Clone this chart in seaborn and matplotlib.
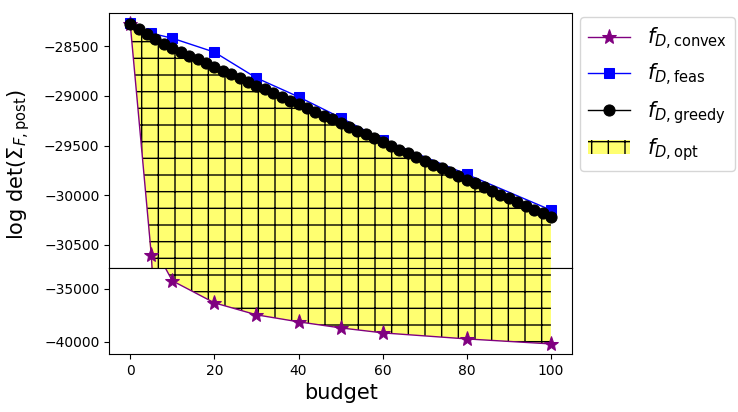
import numpy as np
import pandas as pd
import matplotlib
matplotlib.use("Agg")
import matplotlib.pyplot as plt
import seaborn as sns

x_convex = [0, 5, 10, 20, 30, 40, 50, 60, 80, 100]
y_convex = [-28280, -30600, -34245, -36320, -37450, -38110, -38680, -39150, -39720, -40190]
x_feas = [0, 5, 10, 20, 30, 40, 50, 60, 80, 100]
y_feas = [-28270, -28370, -28420, -28560, -28820, -29010, -29220, -29440, -29790, -30150]
x_greedy = list(range(0, 101, 2))
y_greedy = [-28280, -28330, -28380, -28430, -28475, -28520, -28558, -28596, -28633, -28671,
            -28709, -28747, -28785, -28822, -28860, -28898, -28936, -28974, -29011, -29049,
            -29087, -29125, -29163, -29200, -29238, -29276, -29314, -29352, -29389, -29427,
            -29465, -29503, -29541, -29578, -29616, -29654, -29692, -29730, -29767, -29805,
            -29843, -29881, -29919, -29956, -29994, -30032, -30070, -30108, -30145, -30183, -30221]

fig = plt.figure(figsize=(7.38, 4.12), dpi=100)
L, R = 0.148, 0.775
ax1 = fig.add_axes([L, 0.350, R - L, 0.968 - 0.350])
ax2 = fig.add_axes([L, 0.141, R - L, 0.350 - 0.141], sharex=ax1)

lo = np.interp(x_greedy, x_convex, y_convex)
for ax in (ax1, ax2):
    ax.fill_between(x_greedy, lo, y_greedy, facecolor='#ffff70', edgecolor='black',
                    hatch='+', linewidth=0, label=r'$f_{D,\mathrm{opt}}$')
    sns.lineplot(x=x_convex, y=y_convex, ax=ax, color='purple', marker='*', markersize=11,
                 markeredgecolor='purple', linewidth=1, label=r'$f_{D,\mathrm{convex}}$', legend=False)
    sns.lineplot(x=x_feas, y=y_feas, ax=ax, color='blue', marker='s', markersize=7,
                 markeredgecolor='blue', linewidth=1, label=r'$f_{D,\mathrm{feas}}$', legend=False)
    sns.lineplot(x=x_greedy, y=y_greedy, ax=ax, color='black', marker='o', markersize=8,
                 markeredgecolor='black', linewidth=1, label=r'$f_{D,\mathrm{greedy}}$', legend=False)

ax1.set_ylim(-30731, -28168)
ax2.set_ylim(-41132, -33019)
ax1.set_xlim(-5, 105)
ax1.set_yticks([-30500, -30000, -29500, -29000, -28500])
ax2.set_yticks([-40000, -35000])
ax1.tick_params(axis='x', bottom=False, labelbottom=False)
ax2.set_xticks([0, 20, 40, 60, 80, 100])
ax2.set_xlabel('budget', fontsize=15)
ax1.set_ylabel('')
ax2.set_ylabel('')
fig.text(0.025, 0.6, r'log det($\Sigma_{F,\mathrm{post}}$)', rotation=90, fontsize=15,
         va='center', ha='center')

h, l = ax1.get_legend_handles_labels()
order = [1, 2, 3, 0]
ax1.legend([h[i] for i in order], [l[i] for i in order], loc='upper left',
           bbox_to_anchor=(0.995, 1.025), fontsize=15, frameon=True)
fig.savefig('out.png', dpi=100)
